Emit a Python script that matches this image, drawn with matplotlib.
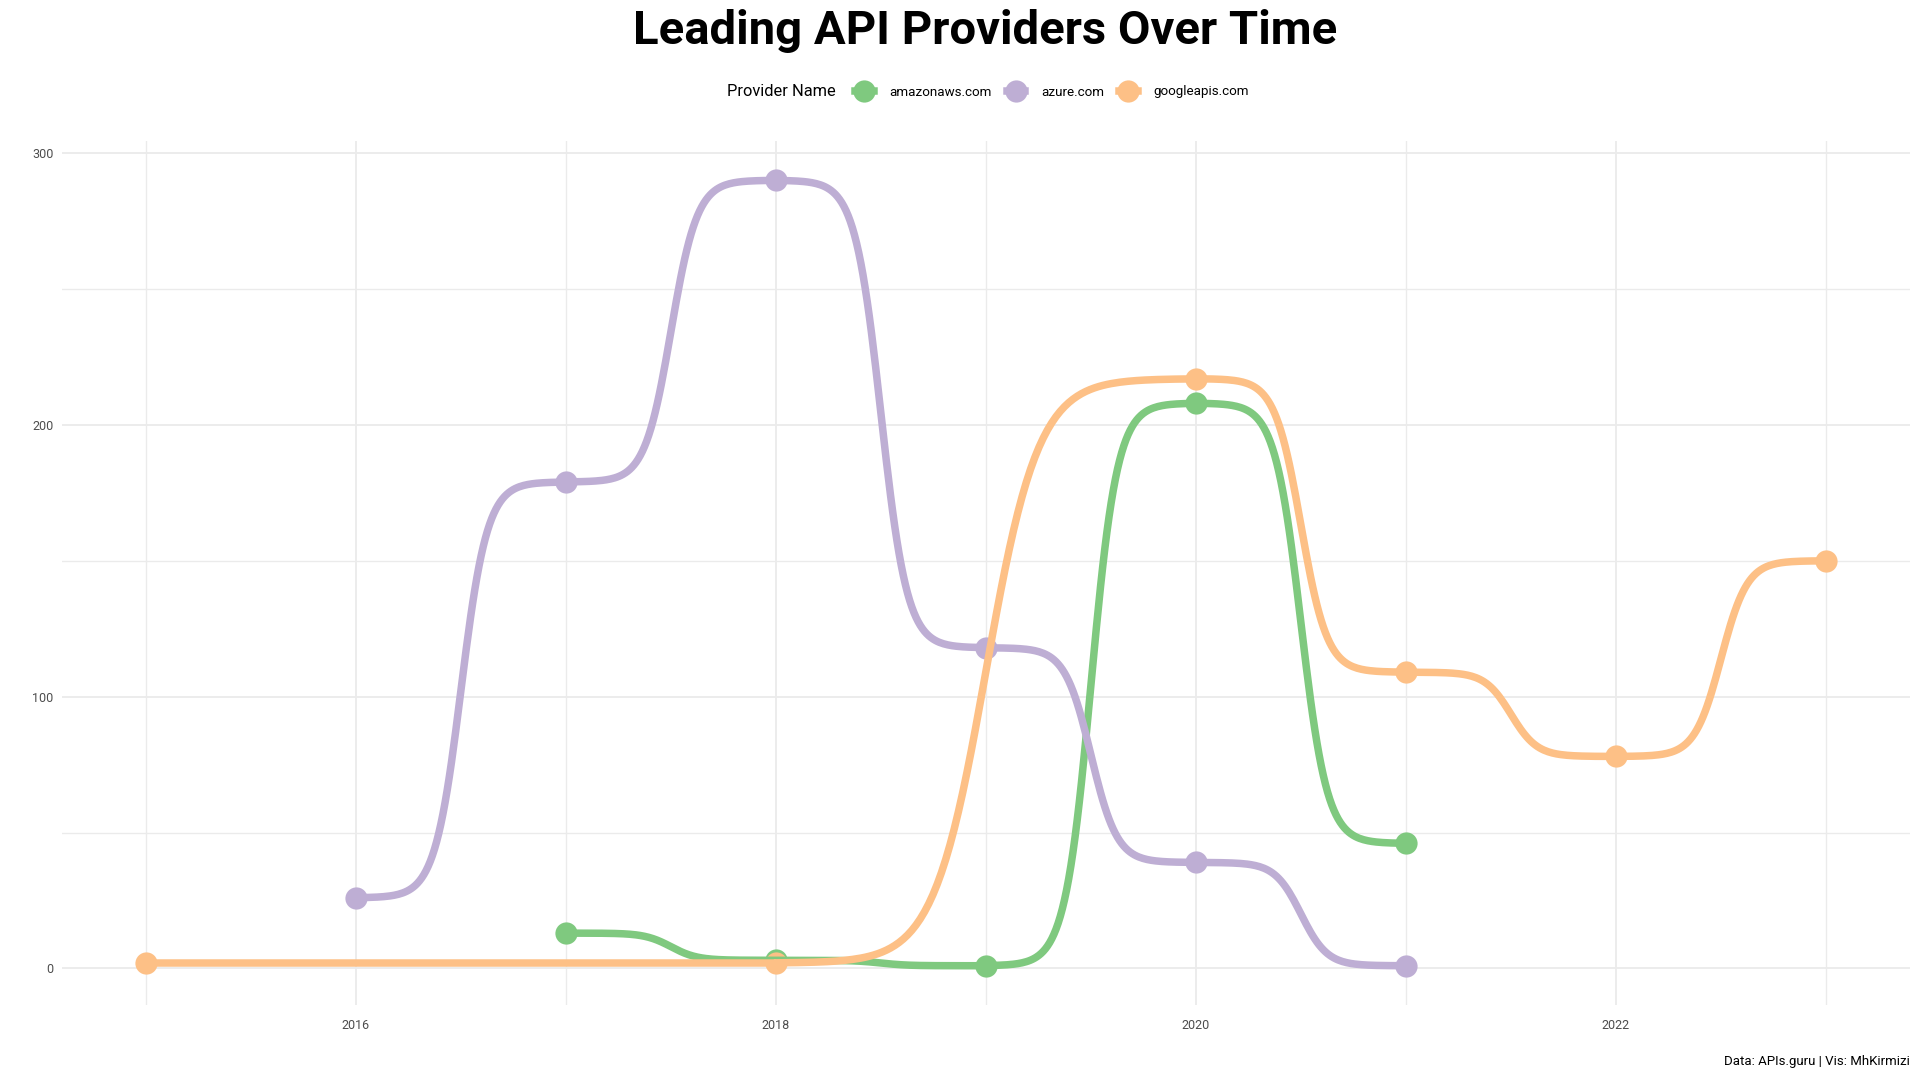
import numpy as np
import matplotlib
matplotlib.use("Agg")
import matplotlib.pyplot as plt
from matplotlib.lines import Line2D

plt.rcParams['font.family'] = ['Roboto', 'DejaVu Sans']

# ---- data ----
providers = ["amazonaws.com", "azure.com", "googleapis.com"]
amazon_years = [2017, 2018, 2019, 2020, 2021]
amazon_counts = [13, 3, 1, 208, 46]
azure_years = [2016, 2017, 2018, 2019, 2020, 2021]
azure_counts = [26, 179, 290, 118, 39, 1]
google_years = [2015, 2018, 2020, 2021, 2022, 2023]
google_counts = [2, 2, 217, 109, 78, 150]
colors = ["#7FC97F", "#BEAED4", "#FDC086"]
x_ticks = [2016, 2018, 2020, 2022]
y_ticks = [0, 100, 200, 300]

series = [(amazon_years, amazon_counts), (azure_years, azure_counts), (google_years, google_counts)]


def sigmoid_path(xs, ys, smooth=8, n=100):
    px, py = [], []
    for i in range(len(xs) - 1):
        t = np.linspace(-smooth, smooth, n)
        s = np.exp(t) / (np.exp(t) + 1)
        px.append((t + smooth) / (2 * smooth) * (xs[i + 1] - xs[i]) + xs[i])
        py.append(s * (ys[i + 1] - ys[i]) + ys[i])
    return np.concatenate(px), np.concatenate(py)


fig = plt.figure(figsize=(19.2, 10.8), dpi=100)
ax = fig.add_axes([62 / 1920, 1 - 1005 / 1080, (1910 - 62) / 1920, (1005 - 141) / 1080])

grid_c = "#EBEBEB"
for yv in [0, 50, 100, 150, 200, 250, 300]:
    ax.axhline(yv, color=grid_c, lw=1.3 if yv % 100 == 0 else 1.0, zorder=0)
for xv in range(2015, 2024):
    ax.axvline(xv, color=grid_c, lw=1.3 if xv % 2 == 0 else 1.0, zorder=0)

# points first, lines on top
for (xs, ys), c in zip(series, colors):
    ax.plot(xs, ys, 'o', color=c, ms=16, mec='none', zorder=2)
for (xs, ys), c in zip(series, colors):
    px, py = sigmoid_path(xs, ys)
    ax.plot(px, py, color=c, lw=5.4, solid_capstyle='butt', zorder=3)

ax.set_xlim(2014.6, 2023.4)
ax.set_ylim(-13.45, 304.45)
ax.set_xticks(x_ticks)
ax.set_xticklabels([str(v) for v in x_ticks])
ax.set_yticks(y_ticks)
ax.set_yticklabels([str(v) for v in y_ticks])
ax.tick_params(axis='x', length=0, labelsize=9, colors="#4D4D4D", pad=10)
ax.tick_params(axis='y', length=0, labelsize=9, colors="#4D4D4D", pad=6)
for sp in ax.spines.values():
    sp.set_visible(False)

fig.text(985 / 1920, 1 - 31 / 1080, "Leading API Providers Over Time", ha='center', va='center',
         fontsize=34, fontweight='bold', color='black')

fig.text(727 / 1920, 1 - 92 / 1080, "Provider Name", ha='left', va='center', fontsize=11.8, color='black')
handles = [Line2D([0], [0], color=c, lw=5.4, marker='o', ms=16, mec='none') for c in colors]
leg = fig.legend(handles, providers, loc='center left', bbox_to_anchor=(843 / 1920, 1 - 92 / 1080),
                 ncol=3, frameon=False, fontsize=9.6, handlelength=1.4, columnspacing=1.1, handletextpad=1.2)

fig.text(1910 / 1920, 1 - 1062 / 1080, "Data: APIs.guru | Vis: MhKirmizi", ha='right', va='center',
         fontsize=9.5, color='black')

fig.savefig("out.png", dpi=100, facecolor='white')
